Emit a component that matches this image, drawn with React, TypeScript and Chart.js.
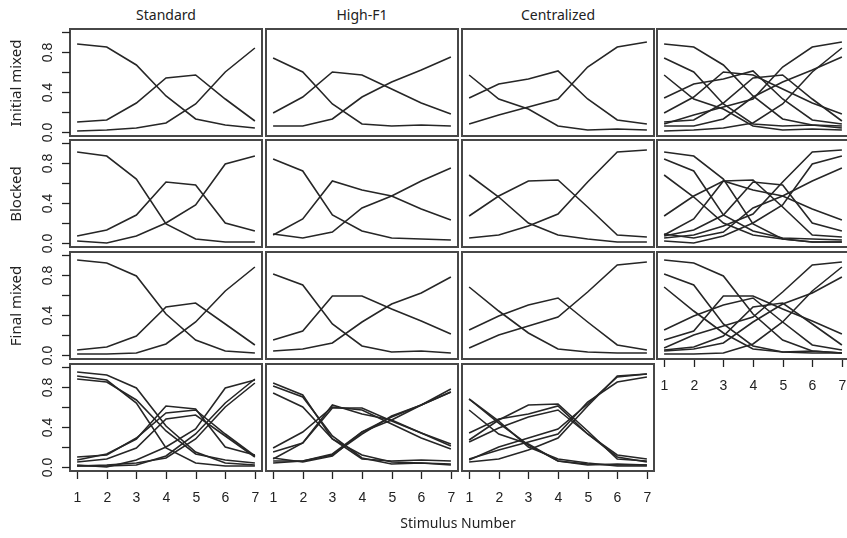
import React, { useEffect, useRef } from "react";
import { Chart, registerables } from "chart.js";

Chart.register(...registerables);

// ---------- data ----------
const stimulus = [1, 2, 3, 4, 5, 6, 7];
const conditions = ["Standard", "High-F1", "Centralized"];
const blocks = ["Initial mixed", "Blocked", "Final mixed"];
const yTickValues = [0, 0.2, 0.4, 0.6, 0.8, 1.0];
const yTickLabels = ["0.0", "", "0.4", "", "0.8", ""];
const xTickLabels = ["1", "2", "3", "4", "5", "6", "7"];
const xAxisTitle = "Stimulus Number";

// Standard
const stdInitA = [0.88, 0.85, 0.67, 0.36, 0.13, 0.07, 0.04];
const stdInitB = [0.10, 0.12, 0.29, 0.54, 0.57, 0.33, 0.11];
const stdInitC = [0.01, 0.02, 0.04, 0.09, 0.28, 0.60, 0.84];
const stdBlockA = [0.91, 0.87, 0.64, 0.19, 0.04, 0.01, 0.01];
const stdBlockB = [0.07, 0.13, 0.28, 0.61, 0.58, 0.20, 0.12];
const stdBlockC = [0.02, 0.00, 0.07, 0.20, 0.38, 0.79, 0.87];
const stdFinalA = [0.95, 0.92, 0.79, 0.41, 0.15, 0.04, 0.02];
const stdFinalB = [0.05, 0.08, 0.19, 0.48, 0.52, 0.31, 0.10];
const stdFinalC = [0.01, 0.01, 0.02, 0.11, 0.33, 0.64, 0.88];

// High-F1
const hfInitA = [0.74, 0.60, 0.28, 0.08, 0.06, 0.07, 0.06];
const hfInitB = [0.19, 0.35, 0.60, 0.57, 0.43, 0.29, 0.18];
const hfInitC = [0.06, 0.06, 0.13, 0.35, 0.50, 0.62, 0.75];
const hfBlockA = [0.84, 0.72, 0.28, 0.12, 0.05, 0.04, 0.03];
const hfBlockB = [0.08, 0.24, 0.62, 0.53, 0.47, 0.34, 0.23];
const hfBlockC = [0.09, 0.05, 0.11, 0.35, 0.47, 0.62, 0.75];
const hfFinalA = [0.81, 0.70, 0.31, 0.09, 0.03, 0.04, 0.02];
const hfFinalB = [0.15, 0.24, 0.59, 0.59, 0.46, 0.34, 0.21];
const hfFinalC = [0.04, 0.06, 0.12, 0.33, 0.51, 0.62, 0.78];

// Centralized
const cenInitA = [0.57, 0.33, 0.23, 0.06, 0.02, 0.03, 0.02];
const cenInitB = [0.34, 0.48, 0.53, 0.61, 0.33, 0.12, 0.08];
const cenInitC = [0.08, 0.17, 0.25, 0.33, 0.65, 0.85, 0.90];
const cenBlockA = [0.68, 0.46, 0.20, 0.08, 0.04, 0.01, 0.01];
const cenBlockB = [0.27, 0.47, 0.62, 0.63, 0.36, 0.08, 0.06];
const cenBlockC = [0.05, 0.08, 0.17, 0.29, 0.61, 0.91, 0.93];
const cenFinalA = [0.68, 0.44, 0.22, 0.06, 0.03, 0.02, 0.02];
const cenFinalB = [0.25, 0.39, 0.50, 0.57, 0.33, 0.10, 0.05];
const cenFinalC = [0.07, 0.20, 0.29, 0.38, 0.63, 0.90, 0.93];

// table [block][condition] -> three response curves
const curves: number[][][][] = [
  [
    [stdInitA, stdInitB, stdInitC],
    [hfInitA, hfInitB, hfInitC],
    [cenInitA, cenInitB, cenInitC],
  ],
  [
    [stdBlockA, stdBlockB, stdBlockC],
    [hfBlockA, hfBlockB, hfBlockC],
    [cenBlockA, cenBlockB, cenBlockC],
  ],
  [
    [stdFinalA, stdFinalB, stdFinalC],
    [hfFinalA, hfFinalB, hfFinalC],
    [cenFinalA, cenFinalB, cenFinalC],
  ],
];

// ---------- layout ----------
const COL_LEFT = [70, 266, 462, 657];
const ROW_TOP = [29, 140, 252, 364];
const PW = 192;
const PH = 107;
const X_MIN = 0.76;
const X_MAX = 7.24;
const Y_MIN = -0.04;
const Y_MAX = 1.03;
const TICK_FONT = '14px "Liberation Sans", Arial, sans-serif';
const LINE_COLOR = "#262626";

const framePlugin = {
  id: "rframe",
  afterDatasetsDraw(chart: any, _args: any, opts: any) {
    const { ctx, chartArea: a, scales } = chart;
    ctx.save();
    ctx.strokeStyle = "#474747";
    ctx.lineWidth = 2;
    ctx.strokeRect(a.left, a.top, a.right - a.left, a.bottom - a.top);
    ctx.strokeStyle = "#222";
    ctx.fillStyle = "#222";
    ctx.lineWidth = 1.3;
    ctx.font = TICK_FONT;
    if (opts.showY) {
      yTickValues.forEach((v, i) => {
        const y = Math.round(scales.y.getPixelForValue(v)) + 0.5;
        ctx.beginPath();
        ctx.moveTo(a.left - 8, y);
        ctx.lineTo(a.left, y);
        ctx.stroke();
        if (yTickLabels[i]) {
          ctx.save();
          ctx.translate(a.left - 22, y);
          ctx.rotate(-Math.PI / 2);
          ctx.textAlign = "center";
          ctx.textBaseline = "middle";
          ctx.fillText(yTickLabels[i], 0, 0);
          ctx.restore();
        }
      });
    }
    if (opts.showX) {
      stimulus.forEach((s, i) => {
        const x = Math.round(scales.x.getPixelForValue(s)) + 0.5;
        ctx.beginPath();
        ctx.moveTo(x, a.bottom + 1);
        ctx.lineTo(x, a.bottom + 8);
        ctx.stroke();
        ctx.textAlign = "center";
        ctx.textBaseline = "middle";
        ctx.fillText(xTickLabels[i], x, a.bottom + 27);
      });
    }
    ctx.restore();
  },
};

type PanelProps = {
  series: number[][];
  col: number;
  row: number;
  showX: boolean;
  showY: boolean;
};

function Panel({ series, col, row, showX, showY }: PanelProps) {
  const ref = useRef<HTMLCanvasElement | null>(null);
  const padL = showY ? 70 : 3;
  const padB = showX ? 45 : 14;
  const padT = 3;
  const padR = 3;
  const w = PW + padL + padR;
  const h = PH + padT + padB;

  useEffect(() => {
    if (!ref.current) return;
    const chart = new Chart(ref.current, {
      type: "line",
      data: {
        datasets: series.map((vals) => ({
          data: vals.map((v, i) => ({ x: stimulus[i], y: v })),
          borderColor: LINE_COLOR,
          borderWidth: 1.6,
          pointRadius: 0,
          tension: 0,
          fill: false,
        })),
      },
      options: {
        responsive: false,
        animation: false,
        events: [],
        layout: { padding: { left: padL, right: padR, top: padT, bottom: padB } },
        plugins: {
          legend: { display: false },
          tooltip: { enabled: false },
          rframe: { showX, showY },
        } as any,
        scales: {
          x: { type: "linear", min: X_MIN, max: X_MAX, display: false },
          y: { type: "linear", min: Y_MIN, max: Y_MAX, display: false },
        },
      },
      plugins: [framePlugin],
    });
    return () => chart.destroy();
  }, []);

  return (
    <canvas
      ref={ref}
      width={w}
      height={h}
      style={{
        position: "absolute",
        left: COL_LEFT[col] - padL,
        top: ROW_TOP[row] - padT,
        width: w,
        height: h,
      }}
    />
  );
}

const titleFont = '"Noto Sans", "Open Sans", sans-serif';

export default function App() {
  const panels: React.ReactNode[] = [];
  // rows 0..2, cols 0..2 : single condition & block
  for (let r = 0; r < 3; r++) {
    for (let c = 0; c < 3; c++) {
      panels.push(
        <Panel key={`p${r}${c}`} series={curves[r][c]} col={c} row={r} showX={false} showY={c === 0} />
      );
    }
    // column 4: all conditions of this block
    const all = [...curves[r][0], ...curves[r][1], ...curves[r][2]];
    panels.push(
      <Panel key={`p${r}3`} series={all} col={3} row={r} showX={r === 2} showY={false} />
    );
  }
  // row 4: all blocks of each condition
  for (let c = 0; c < 3; c++) {
    const all = [...curves[0][c], ...curves[1][c], ...curves[2][c]];
    panels.push(
      <Panel key={`p3${c}`} series={all} col={c} row={3} showX={true} showY={c === 0} />
    );
  }

  return (
    <div
      style={{
        position: "absolute",
        left: 0,
        top: 0,
        width: 847,
        height: 538,
        overflow: "hidden",
        background: "#fff",
      }}
    >
      {panels}
      {conditions.map((t, c) => (
        <div
          key={t}
          style={{
            position: "absolute",
            left: COL_LEFT[c],
            width: PW,
            top: 4,
            textAlign: "center",
            fontFamily: titleFont,
            fontSize: 14,
            color: "#222",
            lineHeight: "22px",
          }}
        >
          {t}
        </div>
      ))}
      {blocks.map((b, r) => (
        <div
          key={b}
          style={{
            position: "absolute",
            left: 15 - 60,
            top: ROW_TOP[r] + PH / 2 - 11,
            width: 120,
            textAlign: "center",
            fontFamily: titleFont,
            fontSize: 15,
            color: "#222",
            lineHeight: "22px",
            transform: "rotate(-90deg)",
          }}
        >
          {b}
        </div>
      ))}
      <div
        style={{
          position: "absolute",
          left: 358,
          width: 200,
          top: 512,
          textAlign: "center",
          fontFamily: titleFont,
          fontSize: 14,
          color: "#222",
          lineHeight: "22px",
        }}
      >
        {xAxisTitle}
      </div>
    </div>
  );
}
